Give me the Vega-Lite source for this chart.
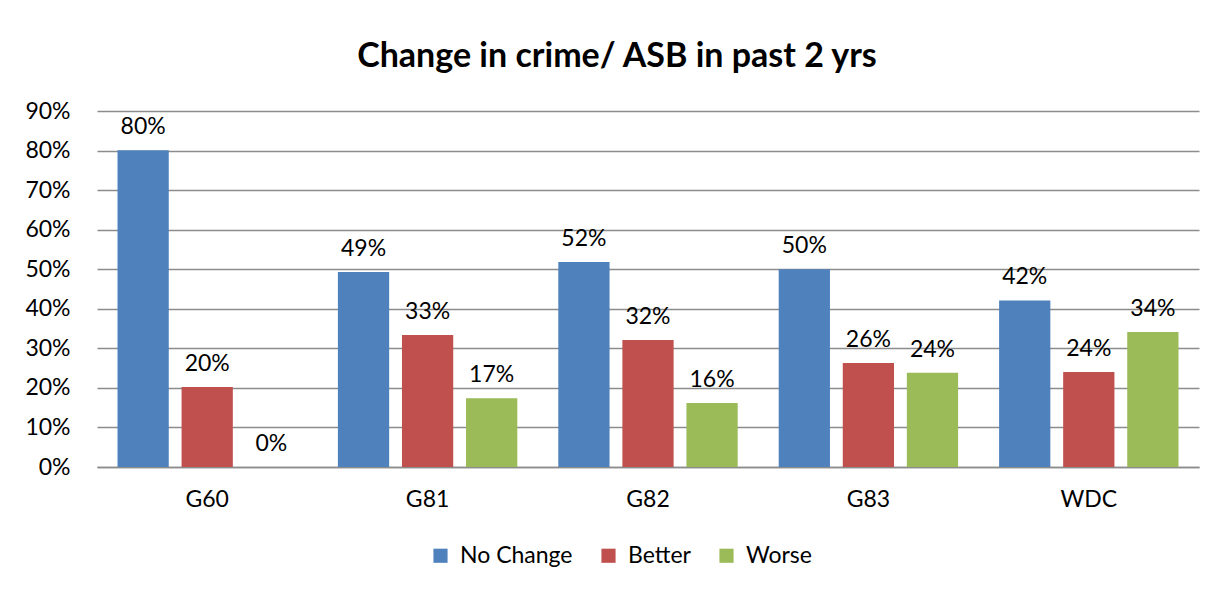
{
  "$schema": "https://vega.github.io/schema/vega-lite/v6.json",
  "width": 1102,
  "height": 356,
  "autosize": {"type": "none"},
  "padding": {"left": 97, "top": 111, "right": 18, "bottom": 123},
  "background": "white",
  "title": {
    "text": "Change in crime/ ASB in past 2 yrs",
    "font": "Lato",
    "fontSize": 34,
    "fontWeight": "bold",
    "color": "#000000",
    "anchor": "middle",
    "frame": "group",
    "dx": -31,
    "offset": 26
  },
  "data": {
    "values": [
      {"area": "G60", "response": "No Change", "share": 0.801},
      {"area": "G60", "response": "Better", "share": 0.202},
      {"area": "G60", "response": "Worse", "share": 0.0},
      {"area": "G81", "response": "No Change", "share": 0.493},
      {"area": "G81", "response": "Better", "share": 0.334},
      {"area": "G81", "response": "Worse", "share": 0.174},
      {"area": "G82", "response": "No Change", "share": 0.518},
      {"area": "G82", "response": "Better", "share": 0.321},
      {"area": "G82", "response": "Worse", "share": 0.162},
      {"area": "G83", "response": "No Change", "share": 0.500},
      {"area": "G83", "response": "Better", "share": 0.263},
      {"area": "G83", "response": "Worse", "share": 0.238},
      {"area": "WDC", "response": "No Change", "share": 0.421},
      {"area": "WDC", "response": "Better", "share": 0.240},
      {"area": "WDC", "response": "Worse", "share": 0.341}
    ]
  },
  "encoding": {
    "x": {
      "field": "area",
      "type": "nominal",
      "sort": ["G60", "G81", "G82", "G83", "WDC"],
      "scale": {"paddingInner": 0, "paddingOuter": 0},
      "axis": {
        "title": null,
        "labelAngle": 0,
        "ticks": false,
        "domain": true,
        "domainColor": "#8c8c8c",
        "domainWidth": 1.5,
        "labelPadding": 21,
        "labelFontSize": 23,
        "labelFont": "Lato",
        "labelColor": "#000000"
      }
    },
    "xOffset": {
      "field": "response",
      "type": "nominal",
      "sort": ["No Change", "Better", "Worse"],
      "scale": {"paddingInner": 0.2, "paddingOuter": 0.32}
    },
    "y": {
      "field": "share",
      "type": "quantitative",
      "scale": {"domain": [0, 0.9], "nice": false},
      "axis": {
        "title": null,
        "values": [0, 0.1, 0.2, 0.3, 0.4, 0.5, 0.6, 0.7, 0.8, 0.9],
        "format": ".0%",
        "grid": true,
        "gridColor": "#8c8c8c",
        "gridWidth": 1.5,
        "domain": false,
        "ticks": false,
        "labelPadding": 27,
        "labelFontSize": 23,
        "labelFont": "Lato",
        "labelColor": "#000000"
      }
    }
  },
  "layer": [
    {
      "mark": {"type": "bar"},
      "encoding": {
        "color": {
          "field": "response",
          "type": "nominal",
          "sort": ["No Change", "Better", "Worse"],
          "scale": {
            "domain": ["No Change", "Better", "Worse"],
            "range": ["#4F81BD", "#C0504D", "#9BBB59"]
          },
          "legend": {
            "title": null,
            "orient": "none",
            "legendX": 332,
            "legendY": 433,
            "padding": 0,
            "direction": "horizontal",
            "symbolType": "square",
            "symbolSize": 200,
            "symbolStrokeWidth": 0,
            "labelFontSize": 23,
            "labelFont": "Lato",
            "labelColor": "#000000",
            "labelOffset": 8,
            "columnPadding": 24
          }
        }
      }
    },
    {
      "mark": {"type": "text", "baseline": "alphabetic", "dy": -16, "fontSize": 23, "font": "Lato", "color": "#000000"},
      "encoding": {
        "text": {"field": "share", "type": "quantitative", "format": ".0%"}
      }
    }
  ],
  "config": {
    "view": {"stroke": null}
  }
}
